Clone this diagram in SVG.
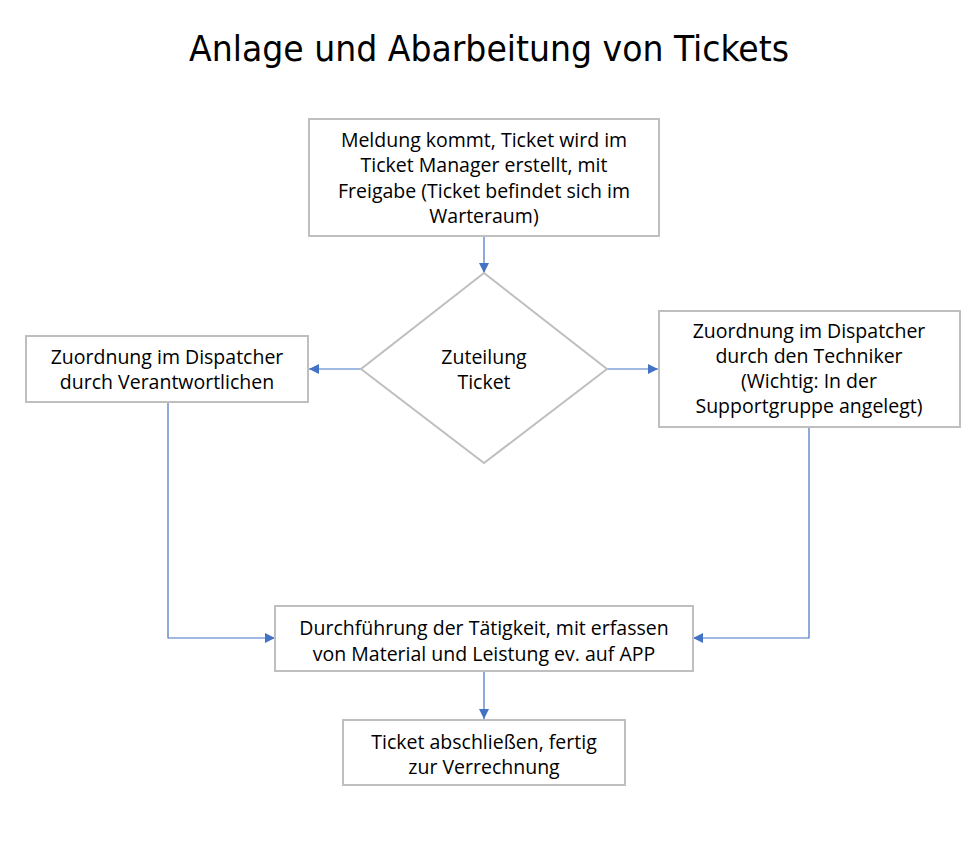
<svg xmlns="http://www.w3.org/2000/svg" width="978" height="842" viewBox="0 0 978 842">
<style>
.box{fill:#fff;stroke:#bfbfbf;stroke-width:2}
.t{font-family:"Open Sans","Noto Sans","Liberation Sans",sans-serif;font-size:19.5px;fill:#000;text-anchor:middle}
.title{font-family:"DejaVu Sans Condensed","Open Sans",sans-serif;font-size:35px;fill:#000;text-anchor:middle}
.c{fill:none;stroke:#4472c4;stroke-width:1.2}
</style>
<defs>
<marker id="a" viewBox="0 0 10 10" refX="10" refY="5" markerWidth="10" markerHeight="10" markerUnits="userSpaceOnUse" orient="auto">
<path d="M0,0 L10,5 L0,10 z" fill="#4472c4"/>
</marker>
</defs>
<rect width="978" height="842" fill="#fff"/>
<text class="title" x="489" y="61" textLength="600" lengthAdjust="spacingAndGlyphs">Anlage und Abarbeitung von Tickets</text>
<g id="connectors">
<path class="c" d="M484,236 V273" marker-end="url(#a)"/>
<path class="c" d="M361,369 H309" marker-end="url(#a)"/>
<path class="c" d="M607,369 H658" marker-end="url(#a)"/>
<path class="c" d="M168,402 V638 H275" marker-end="url(#a)"/>
<path class="c" d="M809,427 V638 H693" marker-end="url(#a)"/>
<path class="c" d="M484,671 V719" marker-end="url(#a)"/>
</g>
<g id="n1">
<rect class="box" x="309" y="119" width="350" height="117"/>
<text class="t" x="484" y="147">Meldung kommt, Ticket wird im</text>
<text class="t" x="484" y="172">Ticket Manager erstellt, mit</text>
<text class="t" x="484" y="198">Freigabe (Ticket befindet sich im</text>
<text class="t" x="484" y="223">Warteraum)</text>
</g>
<g id="n2">
<path d="M484,273 L607,369 L484,463 L361,369 Z" fill="#fff" stroke="#bfbfbf" stroke-width="2"/>
<text class="t" x="484" y="364">Zuteilung</text>
<text class="t" x="484" y="389">Ticket</text>
</g>
<g id="n3">
<rect class="box" x="26" y="336" width="282" height="66"/>
<text class="t" x="167" y="364">Zuordnung im Dispatcher</text>
<text class="t" x="167" y="389">durch Verantwortlichen</text>
</g>
<g id="n4">
<rect class="box" x="659" y="311" width="301" height="116"/>
<text class="t" x="809" y="338">Zuordnung im Dispatcher</text>
<text class="t" x="809" y="363">durch den Techniker</text>
<text class="t" x="809" y="388">(Wichtig: In der</text>
<text class="t" x="809" y="413">Supportgruppe angelegt)</text>
</g>
<g id="n5">
<rect class="box" x="275" y="606" width="418" height="65"/>
<text class="t" x="484" y="635">Durchführung der Tätigkeit, mit erfassen</text>
<text class="t" x="484" y="661">von Material und Leistung ev. auf APP</text>
</g>
<g id="n6">
<rect class="box" x="343" y="720" width="282" height="65"/>
<text class="t" x="484" y="749">Ticket abschließen, fertig</text>
<text class="t" x="484" y="774">zur Verrechnung</text>
</g>
</svg>
